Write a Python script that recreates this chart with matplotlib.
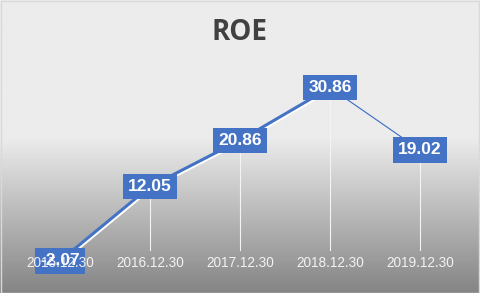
import matplotlib
matplotlib.use("Agg")
import matplotlib.pyplot as plt
import numpy as np
from matplotlib.colors import LinearSegmentedColormap
import matplotlib.patheffects as pe

categories = ["2015.12.30", "2016.12.30", "2017.12.30", "2018.12.30", "2019.12.30"]
roe = [-2.07, 12.05, 20.86, 30.86, 19.02]
title = "ROE"

W, H = 480, 293
fig = plt.figure(figsize=(W / 100, H / 100), dpi=100)

# background gradient
bg = fig.add_axes([0, 0, 1, 1], zorder=0)
bg.set_axis_off()
cmap = LinearSegmentedColormap.from_list("g", [(0, "#ececec"), (0.47, "#ececec"), (1.0, "#858585")])
grad = np.linspace(0, 1, 300).reshape(-1, 1)
bg.imshow(grad, aspect="auto", cmap=cmap, extent=[0, 1, 0, 1], origin="upper")
bg.set_xlim(0, 1)
bg.set_ylim(0, 1)
bg.add_patch(plt.Rectangle((0.5 / W, 0.5 / H), 1 - 1.5 / W, 1 - 1.5 / H, fill=False,
                           edgecolor="#d9d9d9", linewidth=1, transform=bg.transAxes))

# plot axes: x centers at 60..420 px; y zero at 250 px, 5.26 px/unit
ymin, ymax = -2.5, 35.0
ppu = 5.26
top_px = 250 - ymax * ppu
bot_px = 250 - ymin * ppu
ax = fig.add_axes([15 / W, 1 - bot_px / H, 450 / W, (bot_px - top_px) / H], zorder=1)
ax.patch.set_alpha(0)
for s in ax.spines.values():
    s.set_visible(False)
ax.set_xlim(-0.5, len(categories) - 0.5)
ax.set_ylim(ymin, ymax)
ax.set_yticks([])
ax.set_xticks([])

x = np.arange(len(categories))

# drop lines
for xi, v in zip(x, roe):
    if v > 0:
        ax.plot([xi, xi], [0, v], color="#f4f4f4", linewidth=0.8, zorder=1)

# line segments with white shadow
widths = [2.2, 2.2, 2.2, 0.9]
for i in range(len(x) - 1):
    ax.plot(x[i:i + 2], roe[i:i + 2], color="#4472c4", linewidth=widths[i],
            solid_capstyle="round", zorder=3,
            path_effects=[pe.SimpleLineShadow(offset=(1.0, -1.0), shadow_color="white", alpha=1.0, rho=1.0),
                          pe.Normal()])

# data labels
for xi, v in zip(x, roe):
    ax.text(xi, v, f"{v:.2f}", ha="center", va="center", color="white",
            fontsize=12.5, fontweight="bold", family="Liberation Sans", zorder=5,
            bbox=dict(boxstyle="square,pad=0.3", facecolor="#4472c4", edgecolor="none"))

# category labels
for xi, c in zip(x, categories):
    ax.text(xi, -1.1, c, ha="center", va="top", color="#f2f2f2", fontsize=9.8,
            family="Liberation Sans", zorder=6,
            transform=ax.transData)

fig.text(0.5, 1 - 32 / H, title, ha="center", va="center", fontsize=20,
         fontweight="bold", color="#404040", family="Open Sans")

fig.savefig("out.png", dpi=100)
